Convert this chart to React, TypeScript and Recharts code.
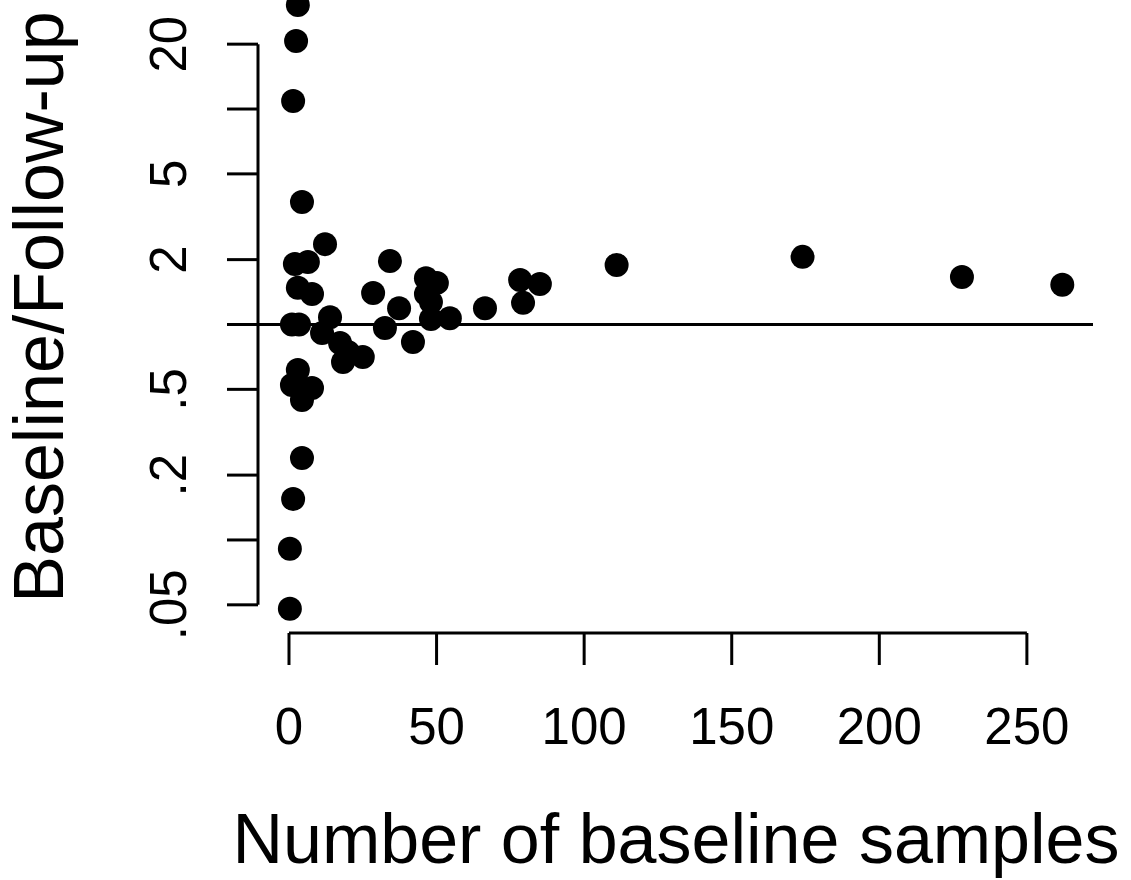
import { ReferenceLine, Scatter, ScatterChart, XAxis, YAxis } from 'recharts'

// number of baseline samples
const samples = [
  3.0, 2.4, 1.4, 4.4, 12.2, 2.0, 6.4, 34.2, 3.0, 7.8, 28.5, 37.3, 46.4, 50.1, 46.4, 48.1, 48.1, 54.5,
  66.4, 78.3, 85.0, 79.3, 111, 174, 228, 262, 1.0, 3.4, 13.9, 11.2, 32.5, 17.3, 20, 18.3, 25, 42,
  3.0, 1.0, 7.8, 4.4, 3.4, 4.4, 1.4, 0.3, 0.3,
]
// baseline / follow-up ratio
const ratios = [
  30.4, 20.7, 10.9, 3.7, 2.36, 1.91, 1.95, 1.97, 1.48, 1.385, 1.4, 1.19, 1.64, 1.56, 1.385, 1.27, 1.06, 1.07,
  1.19, 1.61, 1.54, 1.26, 1.89, 2.06, 1.66, 1.53, 1.0, 1.0, 1.08, 0.913, 0.963, 0.821, 0.745, 0.67, 0.707, 0.83,
  0.615, 0.524, 0.507, 0.446, 0.51, 0.24, 0.155, 0.091, 0.048,
]

const xTicks = [0, 50, 100, 150, 200, 250]
const yTicks = [0.05, 0.1, 0.2, 0.5, 1, 2, 5, 10, 20]
const yLabels = ['.05', '', '.2', '.5', '', '2', '5', '', '20']

const X_DOMAIN: [number, number] = [-10.5, 272.4]
const Y_DOMAIN: [number, number] = [0.037, 32.06]

const points = samples.map((n, i) => ({ n, ratio: ratios[i] }))

const FONT = '"Liberation Sans", Arial, Helvetica, sans-serif'
const LW = 3

const Dot = (props: any) => <circle cx={props.cx} cy={props.cy} r={12} fill="#000" />

const XTick = (props: any) => (
  <text x={props.x} y={744} textAnchor="middle" fontSize={51} fontFamily={FONT} fill="#000">
    {props.payload.value}
  </text>
)

const YTick = (props: any) => {
  const label = yLabels[yTicks.indexOf(props.payload.value)]
  return (
    <text
      x={186}
      y={props.y}
      transform={`rotate(-90, 186, ${props.y})`}
      textAnchor="middle"
      fontSize={51}
      fontFamily={FONT}
      fill="#000"
    >
      {label}
    </text>
  )
}

export default function App() {
  return (
    <div style={{ position: 'absolute', left: 0, top: 0, width: 1131, height: 880, background: '#fff' }}>
      <ScatterChart width={1131} height={880} margin={{ top: 0, right: 38, bottom: 0, left: 0 }}>
        <XAxis
          type="number"
          dataKey="n"
          domain={X_DOMAIN}
          allowDataOverflow
          ticks={xTicks}
          height={247}
          axisLine={false}
          tickSize={32}
          tickLine={{ stroke: '#000', strokeWidth: LW }}
          tick={<XTick />}
        />
        <YAxis
          type="number"
          dataKey="ratio"
          scale="log"
          domain={Y_DOMAIN}
          allowDataOverflow
          ticks={yTicks}
          width={258}
          axisLine={false}
          tickSize={31}
          tickLine={{ stroke: '#000', strokeWidth: LW }}
          tick={<YTick />}
        />
        <ReferenceLine
          segment={[{ x: X_DOMAIN[0], y: 0.05 }, { x: X_DOMAIN[0], y: 20 }]}
          stroke="#000"
          strokeWidth={LW}
        />
        <ReferenceLine
          segment={[{ x: 0, y: Y_DOMAIN[0] }, { x: 250, y: Y_DOMAIN[0] }]}
          stroke="#000"
          strokeWidth={LW}
        />
        <ReferenceLine y={1} stroke="#000" strokeWidth={LW} />
        <Scatter data={points} fill="#000" shape={<Dot />} isAnimationActive={false} />
        <text x={676} y={863} textAnchor="middle" fontSize={70} fontFamily={FONT} fill="#000">
          Number of baseline samples
        </text>
        <text
          x={63}
          y={307}
          transform="rotate(-90, 63, 307)"
          textAnchor="middle"
          fontSize={70}
          fontFamily={FONT}
          fill="#000"
        >
          Baseline/Follow-up
        </text>
      </ScatterChart>
    </div>
  )
}
